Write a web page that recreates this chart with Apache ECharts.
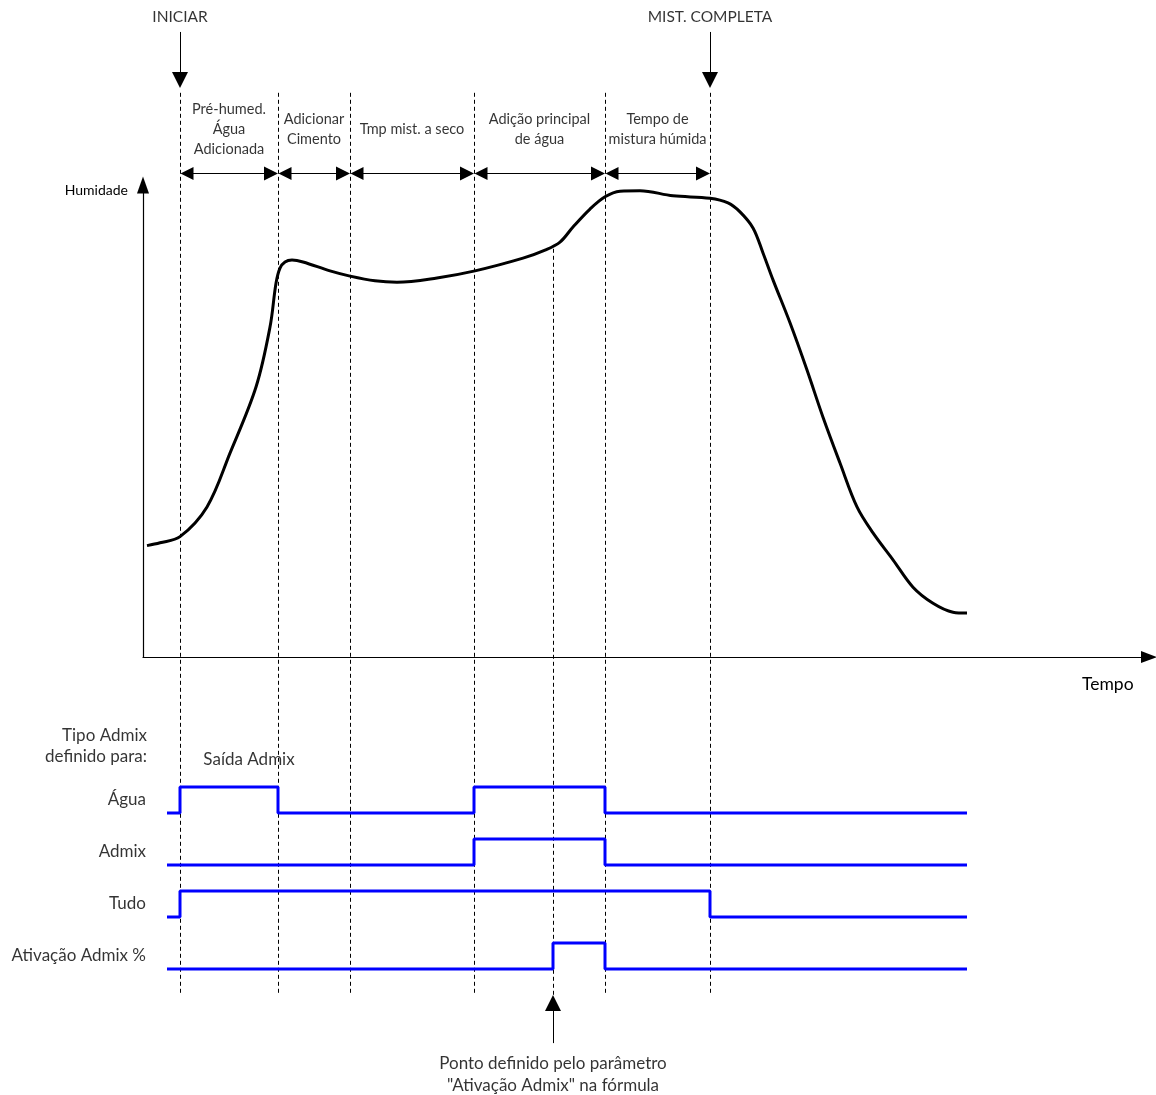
<!DOCTYPE html>
<html>
<head>
<meta charset="utf-8">
<script src="https://cdn.jsdelivr.net/npm/echarts@6/dist/echarts.min.js"></script>
<style>
  html, body { margin: 0; padding: 0; background: #fff; }
  #chart { width: 1156px; height: 1095px; }
</style>
</head>
<body>
<div id="chart"></div>
<script>
// time axis is in arbitrary units, humidity 0..100
const phaseBoundaries = [3.7, 13.5, 20.7, 33.1, 46.2, 56.7];
const admixPoint = 41.0;
const phaseLabels = [
  'Pré-humed.\nÁgua\nAdicionada',
  'Adicionar\nCimento',
  'Tmp mist. a seco',
  'Adição principal\nde água',
  'Tempo de\nmistura húmida'
];
const markerLabels = ['INICIAR', 'MIST. COMPLETA'];

const humidity = [
  [0.4, 23.6], [1.7, 24.2], [3.7, 25.5], [6.4, 31.8], [8.7, 43.2],
  [11.3, 57.2], [12.7, 69.9], [13.3, 79.2], [13.7, 82.4], [14.2, 83.7], [14.9, 84.1],
  [16.0, 83.7], [18.7, 81.8], [20.7, 80.7], [23.2, 79.7], [25.4, 79.4], [29.4, 80.3],
  [33.2, 81.8], [38.0, 84.5], [40.2, 86.2], [41.7, 87.9], [43.0, 91.1], [44.7, 94.9],
  [46.2, 97.5], [47.7, 98.7], [49.7, 98.8], [53.0, 97.7], [56.7, 97.2], [58.5, 96.2],
  [59.7, 94.3], [61.0, 90.9], [62.0, 85.6], [63.0, 79.9], [64.7, 70.8], [66.4, 60.8],
  [68.0, 50.8], [69.7, 41.1], [71.4, 31.8], [73.0, 26.3], [75.0, 20.6], [77.0, 14.8],
  [79.0, 11.4], [81.0, 9.5], [82.4, 9.3]
];

const signalNames = ['Água', 'Admix', 'Tudo', 'Ativação Admix %'];
const aguaSignal = [[2.4, 0], [3.7, 1], [13.5, 0], [33.1, 1], [46.2, 0], [82.4, 0]];
const admixSignal = [[2.4, 0], [33.1, 1], [46.2, 0], [82.4, 0]];
const tudoSignal = [[2.4, 0], [3.7, 1], [56.7, 0], [82.4, 0]];
const ativacaoSignal = [[2.4, 0], [41.0, 1], [46.2, 0], [82.4, 0]];
const signals = [aguaSignal, admixSignal, tudoSignal, ativacaoSignal];

// layout of the timing area (row units, 26px each)
const rowBase = [6, 4, 2, 0];
const guideTop = 33.7, guideBottom = -1, curveFoot = 27.7;
const spanY = 30.6, phaseLabelY = 32.3;
const markerTail = 36.04, markerEnd = 34.19, markerLabelY = 36.6;
const FONT = 'Lato, "Open Sans", sans-serif';

const chart = echarts.init(document.getElementById('chart'));

const guides = phaseBoundaries.map(t => ({ coords: [[t, guideTop], [t, guideBottom]] }));
guides.push({ coords: [[admixPoint, curveFoot], [admixPoint, guideBottom]] });

const spans = [];
for (let i = 0; i < phaseBoundaries.length - 1; i++) {
  spans.push({ coords: [[phaseBoundaries[i] + 0.7, spanY], [phaseBoundaries[i + 1] - 0.7, spanY]] });
}

const markers = [phaseBoundaries[0], phaseBoundaries[phaseBoundaries.length - 1]].map(t => ({
  coords: [[t, markerTail], [t, markerEnd]]
}));
markers.push({ coords: [[admixPoint, -2.85], [admixPoint, -1.31]] });

const textItems = [];
markerLabels.forEach((s, i) => {
  textItems.push({ value: [i === 0 ? phaseBoundaries[0] : phaseBoundaries[5], markerLabelY],
    label: { formatter: s, fontSize: 15.5, position: 'inside' } });
});
phaseLabels.forEach((s, i) => {
  textItems.push({ value: [(phaseBoundaries[i] + phaseBoundaries[i + 1]) / 2, phaseLabelY],
    label: { formatter: s, fontSize: 14.5, lineHeight: 20, position: 'inside' } });
});
signalNames.forEach((s, i) => {
  textItems.push({ value: [signals[i][0][0], rowBase[i] + 0.5],
    label: { formatter: s, fontSize: 17, position: 'left', distance: 21 } });
});
textItems.push({ value: [2.4, 8.58],
  label: { formatter: 'Tipo Admix\ndefinido para:', fontSize: 17, lineHeight: 21, position: 'left', distance: 20, align: 'right' } });
textItems.push({ value: [10.6, 8.04], label: { formatter: 'Saída Admix', fontSize: 17, position: 'inside' } });
textItems.push({ value: [admixPoint, -4.04],
  label: { formatter: 'Ponto definido pelo parâmetro\n"Ativação Admix" na fórmula', fontSize: 17, lineHeight: 22, position: 'inside' } });

chart.setOption({
  animation: false,
  backgroundColor: '#fff',
  textStyle: { fontFamily: FONT, color: '#000' },
  grid: [
    { left: 143, top: 185, width: 1006, height: 472 },
    { left: 143, top: 7, width: 1006, height: 1079 }
  ],
  xAxis: [
    {
      gridIndex: 0, type: 'value', min: 0, max: 100.6,
      axisLine: { show: true, symbol: ['none', 'triangle'], symbolSize: [12, 16], lineStyle: { color: '#000', width: 1.2 } },
      axisTick: { show: false }, axisLabel: { show: false }, splitLine: { show: false },
      name: 'Tempo', nameLocation: 'end', nameGap: -67,
      nameTextStyle: { fontFamily: FONT, fontSize: 17.5, color: '#000', align: 'left', verticalAlign: 'top', padding: [18, 0, 0, 0] }
    },
    { gridIndex: 1, type: 'value', min: 0, max: 100.6, show: false }
  ],
  yAxis: [
    {
      gridIndex: 0, type: 'value', min: 0, max: 100,
      axisLine: { show: true, symbol: ['none', 'triangle'], symbolSize: [12, 17], lineStyle: { color: '#000', width: 1.2 } },
      axisTick: { show: false }, axisLabel: { show: false }, splitLine: { show: false },
      name: 'Humidade', nameLocation: 'end', nameGap: -5,
      nameTextStyle: { fontFamily: FONT, fontSize: 14, color: '#000', align: 'right', verticalAlign: 'middle', padding: [0, 15, 0, 0] }
    },
    { gridIndex: 1, type: 'value', min: -4.5, max: 37, show: false }
  ],
  series: [
    {
      type: 'lines', coordinateSystem: 'cartesian2d', xAxisIndex: 1, yAxisIndex: 1,
      data: guides, symbol: 'none', silent: true, clip: false,
      lineStyle: { color: '#000', width: 1, type: [4, 3], opacity: 1 }
    },
    {
      type: 'line', xAxisIndex: 0, yAxisIndex: 0, data: humidity,
      smooth: 0.35, showSymbol: false, symbol: 'none',
      lineStyle: { color: '#000', width: 3 }
    },
    {
      type: 'lines', coordinateSystem: 'cartesian2d', xAxisIndex: 1, yAxisIndex: 1,
      data: spans, symbol: ['triangle', 'triangle'], symbolSize: [13, 14], silent: true,
      lineStyle: { color: '#000', width: 1, opacity: 1 }
    },
    {
      type: 'lines', coordinateSystem: 'cartesian2d', xAxisIndex: 1, yAxisIndex: 1,
      data: markers, symbol: ['none', 'triangle'], symbolSize: [13, 16], silent: true, clip: false,
      lineStyle: { color: '#000', width: 1, opacity: 1 }
    },
    ...signals.map((sig, i) => ({
      type: 'line', xAxisIndex: 1, yAxisIndex: 1, step: 'end',
      data: sig.map(p => [p[0], p[1] + rowBase[i]]),
      showSymbol: false, symbol: 'none',
      lineStyle: { color: '#0000ff', width: 3 }
    })),
    {
      type: 'scatter', xAxisIndex: 1, yAxisIndex: 1, symbolSize: 0, clip: false, silent: true,
      data: textItems,
      label: { show: true, color: '#000', fontFamily: FONT }
    }
  ]
});
</script>
</body>
</html>
